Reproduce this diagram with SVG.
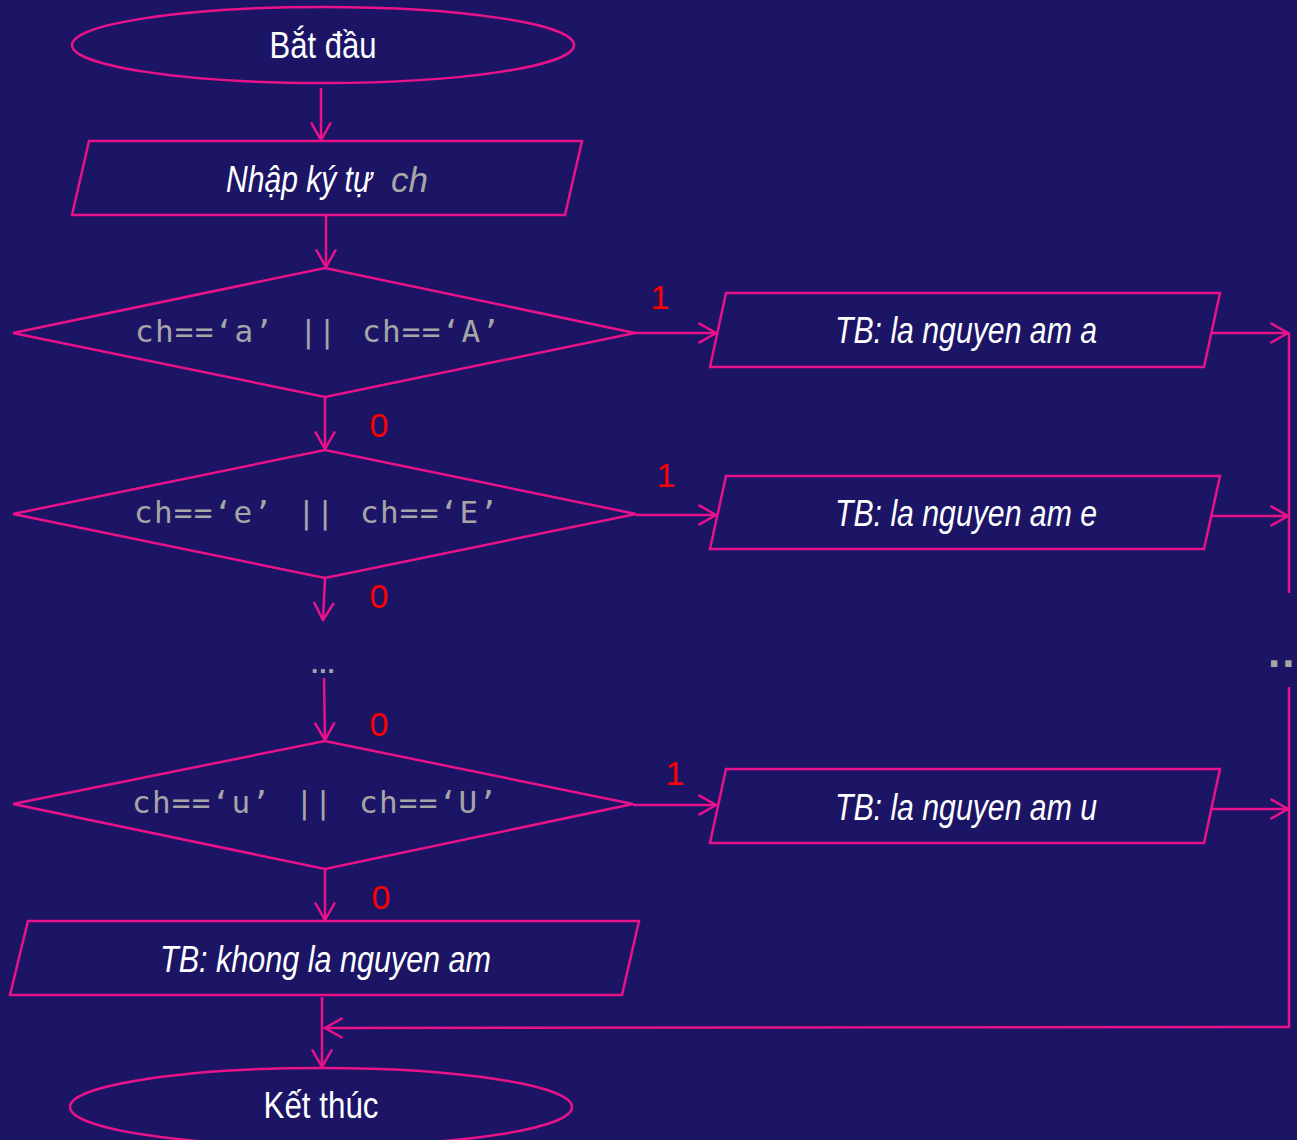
<svg xmlns="http://www.w3.org/2000/svg" width="1297" height="1140" viewBox="0 0 1297 1140">
  <style>
    .shape { fill: none; stroke: #e8138a; stroke-width: 2.5; }
    .wire { fill: none; stroke: #e8138a; stroke-width: 2.5; }
    .lbl { font-family: "Liberation Sans Narrow", "Arial Narrow", "Liberation Sans", sans-serif; fill: #ffffff; font-size: 36px; }
    .it { font-style: italic; }
    .cond { font-family: "DejaVu Sans Mono", "Liberation Mono", monospace; fill: #a6a6a6; font-size: 31px; }
    .var { font-family: "Liberation Sans", sans-serif; font-style: italic; fill: #a6a6a6; font-size: 35px; }
    .flag { font-family: "Liberation Sans Narrow", "Arial Narrow", "Liberation Sans", sans-serif; fill: #ff0000; font-size: 34px; text-anchor: middle; }
  </style>
  <defs>
    <marker id="arrow" markerUnits="userSpaceOnUse" viewBox="0 0 20 24" refX="18.5" refY="12" markerWidth="20" markerHeight="24" orient="auto">
      <path d="M1,2 L18.5,12 L1,22" fill="none" stroke="#e8138a" stroke-width="2.5"/>
    </marker>
  </defs>
  <rect width="1297" height="1140" fill="#1c1566"/>

  <!-- connectors -->
  <g id="connectors">
    <line class="wire" x1="321" y1="88" x2="321" y2="140" marker-end="url(#arrow)"/>
    <line class="wire" x1="326" y1="216" x2="326" y2="267" marker-end="url(#arrow)"/>
    <line class="wire" x1="325" y1="397" x2="325" y2="449" marker-end="url(#arrow)"/>
    <line class="wire" x1="325" y1="578" x2="323" y2="620" marker-end="url(#arrow)"/>
    <line class="wire" x1="324" y1="678" x2="325" y2="740" marker-end="url(#arrow)"/>
    <line class="wire" x1="325" y1="869" x2="325" y2="920" marker-end="url(#arrow)"/>
    <line class="wire" x1="322" y1="997" x2="322" y2="1067" marker-end="url(#arrow)"/>

    <line class="wire" x1="635" y1="333" x2="716" y2="333" marker-end="url(#arrow)"/>
    <line class="wire" x1="636" y1="515" x2="716" y2="515" marker-end="url(#arrow)"/>
    <line class="wire" x1="633" y1="805" x2="716" y2="805" marker-end="url(#arrow)"/>

    <line class="wire" x1="1211" y1="333" x2="1288" y2="333" marker-end="url(#arrow)"/>
    <line class="wire" x1="1211" y1="516" x2="1288" y2="516" marker-end="url(#arrow)"/>
    <line class="wire" x1="1210" y1="809" x2="1288" y2="809" marker-end="url(#arrow)"/>

    <line class="wire" x1="1289" y1="333" x2="1289" y2="593"/>
    <polyline class="wire" points="1289,687 1289,1027 325,1028" marker-end="url(#arrow)"/>

    <text class="flag" x="660" y="309">1</text>
    <text class="flag" x="379" y="437">0</text>
    <text class="flag" x="666" y="487">1</text>
    <text class="flag" x="379" y="608">0</text>
    <text class="flag" x="379" y="736">0</text>
    <text class="flag" x="675" y="785">1</text>
    <text class="flag" x="381" y="909">0</text>

    <text x="311" y="673" font-family="Liberation Sans, sans-serif" font-weight="bold" font-size="26" fill="#a6a6a6" letter-spacing="1">...</text>
    <text x="1268" y="667" font-family="Liberation Sans, sans-serif" font-weight="bold" font-size="44" fill="#a6a6a6" letter-spacing="2">..</text>
  </g>

  <g id="start">
    <ellipse class="shape" cx="323" cy="45" rx="251" ry="38"/>
    <text class="lbl" x="323" y="58" text-anchor="middle" textLength="107" lengthAdjust="spacingAndGlyphs">Bắt đầu</text>
  </g>

  <g id="input">
    <polygon class="shape" points="89,141 582,141 565,215 72,215"/>
    <text class="lbl it" y="192"><tspan x="226" textLength="146" lengthAdjust="spacingAndGlyphs">Nhập ký tự</tspan><tspan class="var" x="391" textLength="37" lengthAdjust="spacingAndGlyphs">ch</tspan></text>
  </g>

  <g id="check-a">
    <polygon class="shape" points="13,333 325,268 635,333 325,397"/>
    <text class="cond" y="342"><tspan x="135" textLength="138" lengthAdjust="spacing">ch==‘a’</tspan><tspan x="299">||</tspan><tspan x="362" textLength="138" lengthAdjust="spacing">ch==‘A’</tspan></text>
  </g>

  <g id="print-a">
    <polygon class="shape" points="726,293 1220,293 1204,367 710,367"/>
    <text class="lbl it" x="835" y="343" textLength="262" lengthAdjust="spacingAndGlyphs">TB: la nguyen am a</text>
  </g>

  <g id="check-e">
    <polygon class="shape" points="13,514 325,450 636,514 325,578"/>
    <text class="cond" y="523"><tspan x="134" textLength="138" lengthAdjust="spacing">ch==‘e’</tspan><tspan x="297">||</tspan><tspan x="360" textLength="138" lengthAdjust="spacing">ch==‘E’</tspan></text>
  </g>

  <g id="print-e">
    <polygon class="shape" points="726,476 1220,476 1204,549 710,549"/>
    <text class="lbl it" x="835" y="526" textLength="262" lengthAdjust="spacingAndGlyphs">TB: la nguyen am e</text>
  </g>

  <g id="check-u">
    <polygon class="shape" points="13,804 325,741 633,804 325,869"/>
    <text class="cond" y="813"><tspan x="132" textLength="138" lengthAdjust="spacing">ch==‘u’</tspan><tspan x="295">||</tspan><tspan x="359" textLength="138" lengthAdjust="spacing">ch==‘U’</tspan></text>
  </g>

  <g id="print-u">
    <polygon class="shape" points="726,769 1220,769 1204,843 710,843"/>
    <text class="lbl it" x="835" y="820" textLength="262" lengthAdjust="spacingAndGlyphs">TB: la nguyen am u</text>
  </g>

  <g id="print-none">
    <polygon class="shape" points="28,921 639,921 622,995 10,995"/>
    <text class="lbl it" x="160" y="972" textLength="331" lengthAdjust="spacingAndGlyphs">TB: khong la nguyen am</text>
  </g>

  <g id="end">
    <ellipse class="shape" cx="321" cy="1107" rx="251" ry="39"/>
    <text class="lbl" x="321" y="1118" text-anchor="middle" textLength="115" lengthAdjust="spacingAndGlyphs">Kết thúc</text>
  </g>
</svg>
